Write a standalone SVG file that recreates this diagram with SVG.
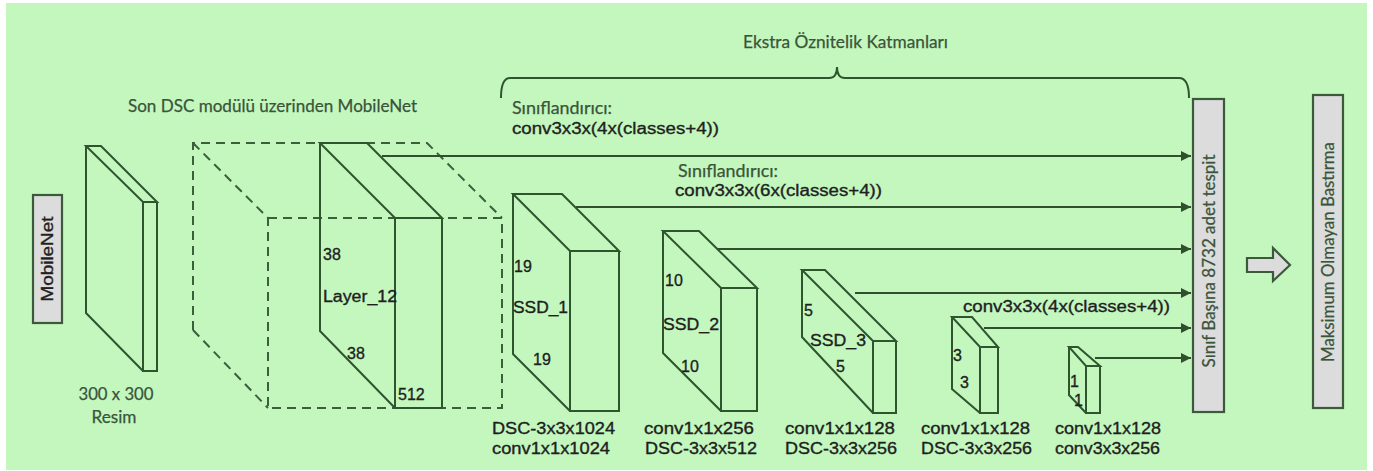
<svg xmlns="http://www.w3.org/2000/svg" width="1373" height="471" viewBox="0 0 1373 471">
  <defs>
    <marker id="head" markerUnits="userSpaceOnUse" markerWidth="10" markerHeight="10" refX="10" refY="5" orient="auto">
      <path d="M0,0 L10,5 L0,10 z" fill="#2f4f2f"/>
    </marker>
    <style>
      .bg { fill: #c3f7be; }
      .edge { fill: none; stroke: #2f552f; stroke-width: 2; stroke-linejoin: miter; }
      .dash { fill: none; stroke: #3a5f3a; stroke-width: 2; stroke-dasharray: 9 6; }
      .box { fill: #dcdcdc; stroke: #3a5a3a; stroke-width: 2.2; }
      .link { fill: none; stroke: #2f4f2f; stroke-width: 2; marker-end: url(#head); }
      .ar { font-family: "Liberation Sans", Arial, sans-serif; font-size: 16px; fill: #1f1f1f; stroke: #1f1f1f; stroke-width: 0.35; }
      .num { font-family: "Liberation Sans", Arial, sans-serif; font-size: 16px; fill: #1f1f1f; stroke: #1f1f1f; stroke-width: 0.35; }
      .cal { font-family: Lato, "Open Sans", sans-serif; font-size: 17px; fill: #3a543a; stroke: #3a543a; stroke-width: 0.25; }
    </style>
  </defs>

  <rect class="bg" x="6" y="3" width="1361" height="467"/>

  <!-- brace over the extra feature layers -->
  <g id="brace">
    <path class="edge" d="M501,98 Q501,78 510,78 L829,78 Q837,78 837,67 Q837,78 845,78 L1179,78 Q1189,78 1189,98"/>
    <text class="cal" x="743" y="48" textLength="205" lengthAdjust="spacingAndGlyphs">Ekstra Öznitelik Katmanları</text>
  </g>

  <!-- left side input -->
  <g id="mobilenet">
    <rect class="box" x="33" y="195" width="29" height="128"/>
    <text class="ar" transform="translate(53,259) rotate(-90)" text-anchor="middle" font-size="17" textLength="85" lengthAdjust="spacingAndGlyphs">MobileNet</text>
  </g>

  <g id="input-image">
    <path class="edge" d="M86,146 L101,146 L157,202 L143,202 Z M86,146 L86,313 L143,371 M143,202 L143,371 L157,371 L157,202"/>
    <text class="cal" x="116" y="400" text-anchor="middle" textLength="75" lengthAdjust="spacingAndGlyphs">300 x 300</text>
    <text class="cal" x="114" y="423" text-anchor="middle" textLength="45" lengthAdjust="spacingAndGlyphs">Resim</text>
  </g>

  <!-- truncated MobileNet base network -->
  <g id="base-network">
    <text class="cal" x="128" y="112" font-size="18" textLength="289" lengthAdjust="spacingAndGlyphs">Son DSC modülü üzerinden MobileNet</text>
    <path class="dash" d="M193,330 L193,143 L427,143 L502,218 M193,143 L268,218 M193,330 L268,408"/>
    <rect class="dash" x="268" y="218" width="234" height="190"/>
  </g>

  <g id="layer12">
    <path class="edge" d="M320,143 L367,143 L442,218 L395,218 Z M320,143 L320,331 L395,408 M395,218 L395,408 L442,408 L442,218"/>
    <text class="num" x="323" y="260">38</text>
    <text class="num" x="323" y="302" textLength="74" lengthAdjust="spacingAndGlyphs">Layer_12</text>
    <text class="num" x="347" y="359">38</text>
    <text class="num" x="398" y="400">512</text>
  </g>

  <g id="ssd1">
    <path class="edge" d="M513,194 L562,194 L619,251 L570,251 Z M513,194 L513,354 L570,411 M570,251 L570,411 L619,411 L619,251"/>
    <text class="num" x="514" y="272">19</text>
    <text class="num" x="513" y="313" textLength="55" lengthAdjust="spacingAndGlyphs">SSD_1</text>
    <text class="num" x="533" y="365">19</text>
    <text class="ar" x="492" y="434" textLength="123" lengthAdjust="spacingAndGlyphs">DSC-3x3x1024</text>
    <text class="ar" x="492" y="454" textLength="118" lengthAdjust="spacingAndGlyphs">conv1x1x1024</text>
  </g>

  <g id="ssd2">
    <path class="edge" d="M663,231 L699,231 L757,288 L721,288 Z M663,231 L663,353 L721,411 M721,288 L721,411 L757,411 L757,288"/>
    <text class="num" x="665" y="286">10</text>
    <text class="num" x="663" y="330" textLength="56" lengthAdjust="spacingAndGlyphs">SSD_2</text>
    <text class="num" x="681" y="372">10</text>
    <text class="ar" x="644" y="434" textLength="110" lengthAdjust="spacingAndGlyphs">conv1x1x256</text>
    <text class="ar" x="645" y="454" textLength="112" lengthAdjust="spacingAndGlyphs">DSC-3x3x512</text>
  </g>

  <g id="ssd3">
    <path class="edge" d="M802,270 L825,270 L896,341 L873,341 Z M802,270 L802,337 L873,413 M873,341 L873,413 L896,413 L896,341"/>
    <text class="num" x="804" y="316">5</text>
    <text class="num" x="810" y="346" textLength="56" lengthAdjust="spacingAndGlyphs">SSD_3</text>
    <text class="num" x="836" y="372">5</text>
    <text class="ar" x="785" y="434" textLength="110" lengthAdjust="spacingAndGlyphs">conv1x1x128</text>
    <text class="ar" x="785" y="454" textLength="112" lengthAdjust="spacingAndGlyphs">DSC-3x3x256</text>
  </g>

  <g id="layer-3x3">
    <path class="edge" d="M952,317 L972,317 L998,347 L980,347 Z M952,317 L952,389 L980,413 M980,347 L980,413 L998,413 L998,347"/>
    <text class="num" x="953" y="361">3</text>
    <text class="num" x="960" y="388">3</text>
    <text class="ar" x="921" y="434" textLength="109" lengthAdjust="spacingAndGlyphs">conv1x1x128</text>
    <text class="ar" x="921" y="454" textLength="111" lengthAdjust="spacingAndGlyphs">DSC-3x3x256</text>
  </g>

  <g id="layer-1x1">
    <path class="edge" d="M1069,347 L1078,347 L1100,366 L1086,366 Z M1069,347 L1069,395 L1086,413 M1086,366 L1086,413 L1100,413 L1100,366"/>
    <text class="num" x="1070" y="387" font-size="14">1</text>
    <text class="num" x="1074" y="406" font-size="14">1</text>
    <text class="ar" x="1055" y="434" textLength="106" lengthAdjust="spacingAndGlyphs">conv1x1x128</text>
    <text class="ar" x="1055" y="454" textLength="105" lengthAdjust="spacingAndGlyphs">conv3x3x256</text>
  </g>

  <!-- classifier heads feeding the detection collector -->
  <g id="connectors">
    <path class="link" d="M382,156 L1191,156"/>
    <path class="link" d="M576,207 L1191,207"/>
    <path class="link" d="M717,249 L1191,249"/>
    <path class="link" d="M855,293 L1191,293"/>
    <path class="link" d="M984,328 L1191,328"/>
    <path class="link" d="M1095,358 L1191,358"/>
    <text class="cal" x="512" y="114" textLength="100" lengthAdjust="spacingAndGlyphs">Sınıflandırıcı:</text>
    <text class="ar" x="512" y="134" textLength="207" lengthAdjust="spacingAndGlyphs">conv3x3x(4x(classes+4))</text>
    <text class="cal" x="678" y="177" textLength="100" lengthAdjust="spacingAndGlyphs">Sınıflandırıcı:</text>
    <text class="ar" x="675" y="196" textLength="207" lengthAdjust="spacingAndGlyphs">conv3x3x(6x(classes+4))</text>
    <text class="ar" x="963" y="312" textLength="207" lengthAdjust="spacingAndGlyphs">conv3x3x(4x(classes+4))</text>
    <path class="box" d="M1247,258 L1273,258 L1273,248 L1290,265 L1273,281 L1273,272 L1247,272 Z"/>
  </g>

  <g id="detections">
    <rect class="box" x="1193" y="99" width="31" height="313"/>
    <text class="cal" transform="translate(1215,261) rotate(-90)" text-anchor="middle" textLength="213" lengthAdjust="spacingAndGlyphs">Sınıf Başına 8732 adet tespit</text>
  </g>

  <g id="nms">
    <rect class="box" x="1313" y="95" width="30" height="313"/>
    <text class="cal" transform="translate(1334,252) rotate(-90)" text-anchor="middle" textLength="220" lengthAdjust="spacingAndGlyphs">Maksimum Olmayan Bastırma</text>
  </g>
</svg>
